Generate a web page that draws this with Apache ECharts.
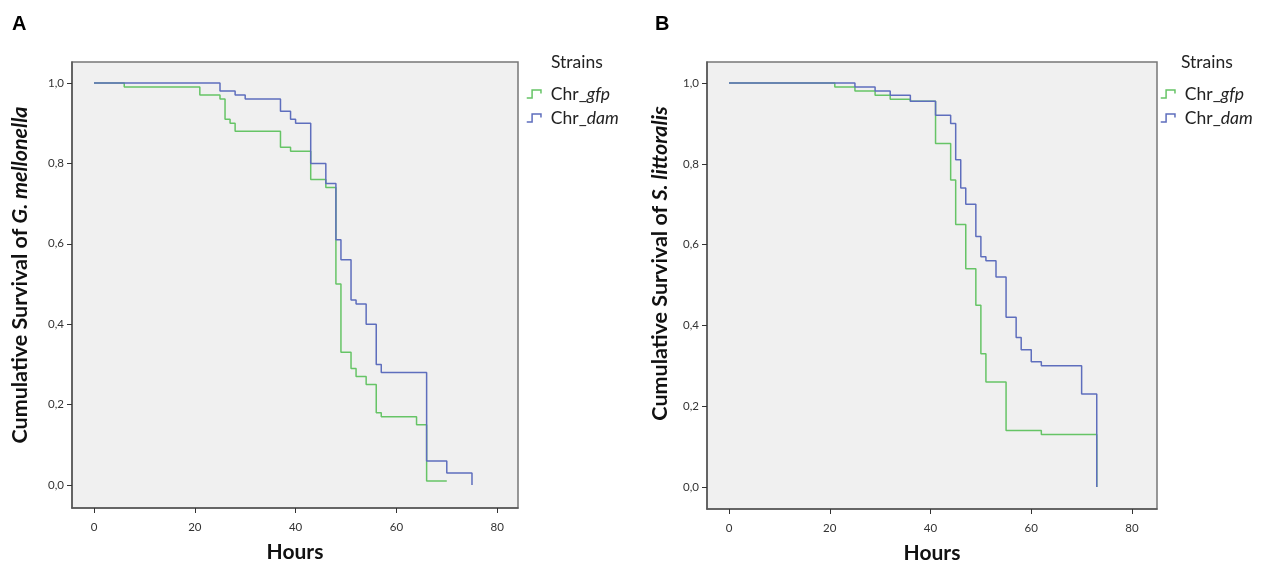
<!DOCTYPE html>
<html>
<head>
<meta charset="utf-8">
<script src="https://cdn.jsdelivr.net/npm/echarts@6/dist/echarts.min.js"></script>
<style>
html,body{margin:0;padding:0;background:#fff;}
#c{width:1282px;height:564px;}
</style>
</head>
<body>
<div id="c"></div>
<script>
// ---- data ----
const strains = ['Chr_gfp', 'Chr_dam'];
const xTicks = [0, 20, 40, 60, 80];
const yTicks = [0, 0.2, 0.4, 0.6, 0.8, 1.0];

// Panel A: G. mellonella
const aGfpHours = [0, 6, 21, 25, 26, 27, 28, 37, 39, 43, 46, 48, 49, 51, 52, 54, 56, 57, 64, 66, 70];
const aGfpSurv  = [1.0, 0.99, 0.97, 0.96, 0.91, 0.90, 0.88, 0.84, 0.83, 0.76, 0.74, 0.50, 0.33, 0.29, 0.27, 0.25, 0.18, 0.17, 0.15, 0.01, 0.01];
const aDamHours = [0, 25, 28, 30, 37, 39, 40, 43, 46, 48, 49, 51, 52, 54, 56, 57, 66, 70, 75];
const aDamSurv  = [1.0, 0.98, 0.97, 0.96, 0.93, 0.91, 0.90, 0.80, 0.75, 0.61, 0.56, 0.46, 0.45, 0.40, 0.30, 0.28, 0.06, 0.03, 0.0];

// Panel B: S. littoralis
const bGfpHours = [0, 21, 25, 29, 32, 36, 41, 44, 45, 47, 49, 50, 51, 55, 62, 73];
const bGfpSurv  = [1.0, 0.99, 0.98, 0.97, 0.96, 0.955, 0.85, 0.76, 0.65, 0.54, 0.45, 0.33, 0.26, 0.14, 0.13, 0.0];
const bDamHours = [0, 25, 29, 32, 36, 41, 44, 45, 46, 47, 49, 50, 51, 53, 55, 57, 58, 60, 62, 70, 73];
const bDamSurv  = [1.0, 0.99, 0.98, 0.97, 0.955, 0.92, 0.90, 0.81, 0.74, 0.70, 0.62, 0.57, 0.56, 0.52, 0.42, 0.37, 0.34, 0.31, 0.30, 0.23, 0.0];

const GREEN = '#66c466';
const BLUE = '#5e6ebd';
const FONT = 'Lato, "Open Sans", sans-serif';

function pairs(xs, ys) { return xs.map((x, i) => [x, ys[i]]); }
function fmtY(v) { return v.toFixed(1).replace('.', ','); }

function xAxisFor(gridIndex, min, max) {
  return {
    type: 'value', gridIndex, min, max,
    name: 'Hours', nameLocation: 'middle', nameGap: 34,
    nameTextStyle: { fontFamily: FONT, fontWeight: 'bold', fontSize: 21, color: '#111' },
    splitLine: { show: false },
    axisLine: { show: true, onZero: false, lineStyle: { color: '#555', width: 1.5 } },
    axisTick: { show: true, length: 5, customValues: xTicks, lineStyle: { color: '#333' } },
    axisLabel: { customValues: xTicks, margin: 13, fontFamily: FONT, fontSize: 11.5, color: '#333' }
  };
}
function yAxisFor(gridIndex, min, max, species, gap, shift) {
  return {
    type: 'value', gridIndex, min, max,
    name: '{b|Cumulative Survival of }{bi|' + species + '}',
    nameLocation: 'middle', nameGap: gap, nameRotate: 90,
    nameTextStyle: {
      padding: [0, 0, 0, shift],
      rich: {
        b: { fontFamily: FONT, fontWeight: 'bold', fontSize: 21.5, color: '#111' },
        bi: { fontFamily: FONT, fontWeight: 'bold', fontStyle: 'italic', fontSize: 21.5, color: '#111' }
      }
    },
    splitLine: { show: false },
    axisLine: { show: true, onZero: false, lineStyle: { color: '#555', width: 1.5 } },
    axisTick: { show: true, length: 5, customValues: yTicks, lineStyle: { color: '#333' } },
    axisLabel: { customValues: yTicks, margin: 8, fontFamily: FONT, fontSize: 11.5, color: '#333', formatter: fmtY }
  };
}
function legendFor(left, top) {
  return {
    left, top, orient: 'vertical', itemGap: 6,
    icon: 'path://M0,9 L6,9 L6,0 L16,0 L16,4',
    itemWidth: 16, itemHeight: 8,
    data: strains.map((s, i) => ({
      name: s,
      itemStyle: { color: 'transparent', borderColor: i === 0 ? GREEN : BLUE, borderWidth: 1.5 }
    })),
    formatter: n => { const p = n.split('_'); return '{n|' + p[0] + '_}{i|' + p[1] + '}'; },
    textStyle: {
      rich: {
        n: { fontFamily: FONT, fontSize: 17.5, color: '#222', padding: [0, 0, 0, 4] },
        i: { fontFamily: FONT, fontSize: 17.5, fontStyle: 'italic', color: '#222' }
      }
    },
    selectedMode: false
  };
}
function stepSeries(name, xi, yi, data, color) {
  return {
    name, type: 'line', step: 'end', xAxisIndex: xi, yAxisIndex: yi,
    data, showSymbol: false, symbol: 'none', color,
    lineStyle: { color, width: 1.5 }, animation: false
  };
}

const chart = echarts.init(document.getElementById('c'));
chart.setOption({
  backgroundColor: '#fff',
  animation: false,
  title: [
    { text: 'A', left: 7, top: 9, textStyle: { fontFamily: 'Liberation Sans, Arial', fontWeight: 'bold', fontSize: 20, color: '#000' } },
    { text: 'B', left: 650, top: 9, textStyle: { fontFamily: 'Liberation Sans, Arial', fontWeight: 'bold', fontSize: 20, color: '#000' } },
    { text: 'Strains', left: 546, top: 48, textStyle: { fontFamily: FONT, fontWeight: 'normal', fontSize: 17.5, color: '#222' } },
    { text: 'Strains', left: 1176, top: 48, textStyle: { fontFamily: FONT, fontWeight: 'normal', fontSize: 17.5, color: '#222' } }
  ],
  legend: [legendFor(521, 80), legendFor(1155, 80)],
  grid: [
    { left: 72, top: 62, width: 446, height: 446, outerBoundsMode: 'none', containLabel: false, show: true, backgroundColor: '#f0f0f0', borderColor: '#777', borderWidth: 1.5 },
    { left: 707, top: 62, width: 450, height: 447, outerBoundsMode: 'none', containLabel: false, show: true, backgroundColor: '#f0f0f0', borderColor: '#777', borderWidth: 1.5 }
  ],
  xAxis: [
    xAxisFor(0, -4.365, 84.13),
    xAxisFor(1, -4.367, 84.96)
  ],
  yAxis: [
    yAxisFor(0, -0.0572, 1.0522, 'G. mellonella', 41, 20),
    yAxisFor(1, -0.0545, 1.052, 'S. littoralis', 36, 44)
  ],
  series: [
    stepSeries(strains[0], 0, 0, pairs(aGfpHours, aGfpSurv), GREEN),
    stepSeries(strains[1], 0, 0, pairs(aDamHours, aDamSurv), BLUE),
    stepSeries(strains[0], 1, 1, pairs(bGfpHours, bGfpSurv), GREEN),
    stepSeries(strains[1], 1, 1, pairs(bDamHours, bDamSurv), BLUE)
  ]
});
</script>
</body>
</html>
